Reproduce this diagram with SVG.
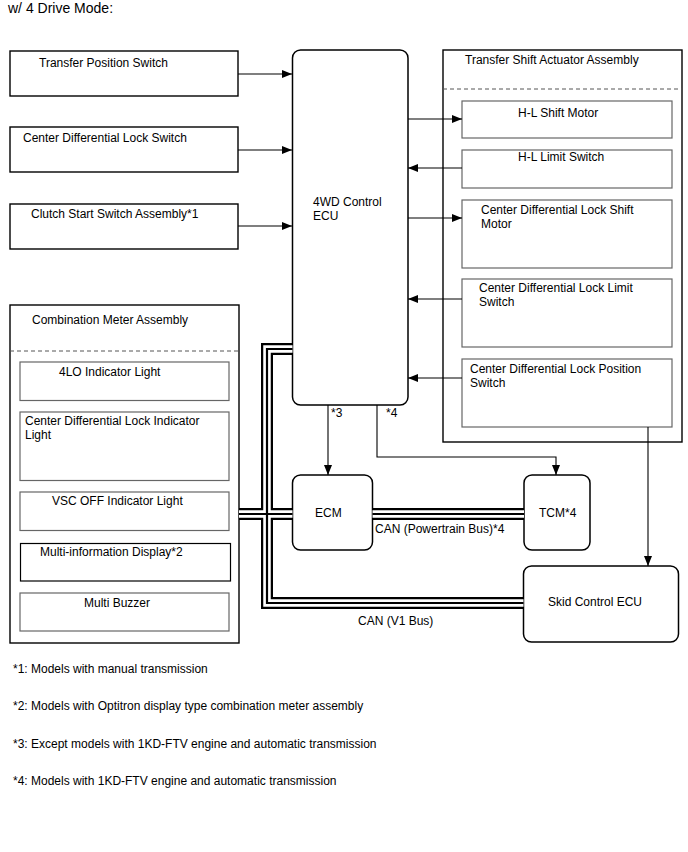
<svg xmlns="http://www.w3.org/2000/svg" width="688" height="852" viewBox="0 0 688 852">
<style>
text{font-family:"Liberation Sans",Arial,sans-serif;font-size:12px;fill:#000}
.ob{fill:#fff;stroke:#000;stroke-width:1.4}
.ib{fill:#fff;stroke:#666;stroke-width:1.2}
.ibk{fill:#fff;stroke:#000;stroke-width:1.2}
.rb{fill:#fff;stroke:#000;stroke-width:1.5}
.dash{stroke:#555;stroke-width:1;stroke-dasharray:4,3;fill:none}
.ln{stroke:#000;stroke-width:1.1;fill:none}
.arr{marker-end:url(#ah)}
.b1{stroke:#000;stroke-width:12;fill:none;stroke-linejoin:miter}
.b2{stroke:#fff;stroke-width:7.5;fill:none;stroke-linejoin:miter}
.b3{stroke:#000;stroke-width:2.2;fill:none;stroke-linejoin:miter}
</style>
<defs>
<marker id="ah" viewBox="0 0 10 8" refX="10" refY="4" markerWidth="10" markerHeight="8" markerUnits="userSpaceOnUse" orient="auto">
<path d="M0,0 L10,4 L0,8 z" fill="#000"/>
</marker>
</defs>
<rect width="688" height="852" fill="#fff"/>
<text x="8" y="13" style="font-size:14px">w/ 4 Drive Mode:</text>

<g id="transfer-position-switch">
<rect class="ob" x="10" y="51" width="228" height="45"/>
<text x="39" y="67">Transfer Position Switch</text>
</g>
<g id="center-diff-lock-switch">
<rect class="ob" x="10" y="127" width="228" height="45"/>
<text x="23" y="142">Center Differential Lock Switch</text>
</g>
<g id="clutch-start-switch">
<rect class="ob" x="10" y="204" width="228" height="45"/>
<text x="31" y="218">Clutch Start Switch Assembly*1</text>
</g>

<g id="ecu-4wd">
<rect class="rb" x="292.5" y="50" width="115.5" height="355" rx="8"/>
<text x="313" y="206">4WD Control</text>
<text x="313" y="220">ECU</text>
</g>

<g id="transfer-shift-actuator">
<rect class="ob" x="443" y="50" width="239" height="392"/>
<line class="dash" x1="443" y1="89" x2="682" y2="89"/>
<text x="465" y="64">Transfer Shift Actuator Assembly</text>
</g>
<g id="hl-shift-motor">
<rect class="ib" x="462" y="101" width="210" height="37"/>
<text x="518" y="117">H-L Shift Motor</text>
</g>
<g id="hl-limit-switch">
<rect class="ib" x="462" y="150" width="210" height="38"/>
<text x="518" y="161">H-L Limit Switch</text>
</g>
<g id="cdl-shift-motor">
<rect class="ib" x="462" y="200" width="210" height="68"/>
<text x="481" y="214">Center Differential Lock Shift</text>
<text x="481" y="228">Motor</text>
</g>
<g id="cdl-limit-switch">
<rect class="ib" x="462" y="279" width="210" height="68"/>
<text x="479" y="292">Center Differential Lock Limit</text>
<text x="479" y="306">Switch</text>
</g>
<g id="cdl-position-switch">
<rect class="ib" x="462" y="359" width="210" height="68"/>
<text x="470" y="373">Center Differential Lock Position</text>
<text x="470" y="387">Switch</text>
</g>

<g id="combination-meter">
<rect class="ob" x="10" y="305" width="229" height="338"/>
<line class="dash" x1="10" y1="351" x2="239" y2="351"/>
<text x="32" y="324">Combination Meter Assembly</text>
</g>
<g id="4lo-indicator">
<rect class="ib" x="20" y="362" width="209" height="38.5"/>
<text x="59" y="376">4LO Indicator Light</text>
</g>
<g id="cdl-indicator">
<rect class="ib" x="20" y="412" width="209" height="68.5"/>
<text x="25" y="425">Center Differential Lock Indicator</text>
<text x="25" y="439">Light</text>
</g>
<g id="vsc-off-indicator">
<rect class="ib" x="20" y="492" width="209" height="38.5"/>
<text x="52" y="505">VSC OFF Indicator Light</text>
</g>
<g id="multi-info-display">
<rect class="ibk" x="20.5" y="543.5" width="210" height="37.5"/>
<text x="40" y="556">Multi-information Display*2</text>
</g>
<g id="multi-buzzer">
<rect class="ib" x="20" y="593" width="209" height="38"/>
<text x="84" y="607">Multi Buzzer</text>
</g>

<g id="ecm">
<rect class="rb" x="292.5" y="475" width="80" height="75" rx="8"/>
<text x="315" y="517">ECM</text>
</g>
<g id="tcm">
<rect class="rb" x="524" y="475" width="66" height="75" rx="8"/>
<text x="539" y="517">TCM*4</text>
</g>
<g id="skid-control-ecu">
<rect class="rb" x="523.5" y="566" width="155" height="76" rx="8"/>
<text x="548" y="606">Skid Control ECU</text>
</g>

<g id="connectors">
<line class="ln arr" x1="238" y1="74" x2="292" y2="74"/>
<line class="ln arr" x1="238" y1="150" x2="292" y2="150"/>
<line class="ln arr" x1="238" y1="226" x2="292" y2="226"/>
<line class="ln arr" x1="408" y1="119" x2="462" y2="119"/>
<line class="ln arr" x1="462" y1="168" x2="408" y2="168"/>
<line class="ln arr" x1="408" y1="218" x2="462" y2="218"/>
<line class="ln arr" x1="462" y1="299" x2="408" y2="299"/>
<line class="ln arr" x1="462" y1="378" x2="408" y2="378"/>
<line class="ln arr" x1="648" y1="427" x2="648" y2="566"/>
<line class="ln arr" x1="328" y1="405" x2="328" y2="475"/>
<polyline class="ln arr" points="377,405 377,457 556,457 556,475"/>
<path class="b1" d="M292.5,349 H267 V603 H523.5 M239,514 H292.5 M372.5,514 H524"/>
<path class="b2" d="M292.5,349 H267 V603 H523.5 M239,514 H292.5 M372.5,514 H524"/>
<path class="b3" d="M292.5,349 H267 V603 H523.5 M239,514 H292.5 M372.5,514 H524"/>
<text x="331" y="417">*3</text>
<text x="386" y="417">*4</text>
<text x="375" y="533">CAN (Powertrain Bus)*4</text>
<text x="358" y="625">CAN (V1 Bus)</text>
</g>

<g id="notes">
<text x="13" y="673">*1: Models with manual transmission</text>
<text x="13" y="710">*2: Models with Optitron display type combination meter assembly</text>
<text x="13" y="748">*3: Except models with 1KD-FTV engine and automatic transmission</text>
<text x="13" y="785">*4: Models with 1KD-FTV engine and automatic transmission</text>
</g>
</svg>
